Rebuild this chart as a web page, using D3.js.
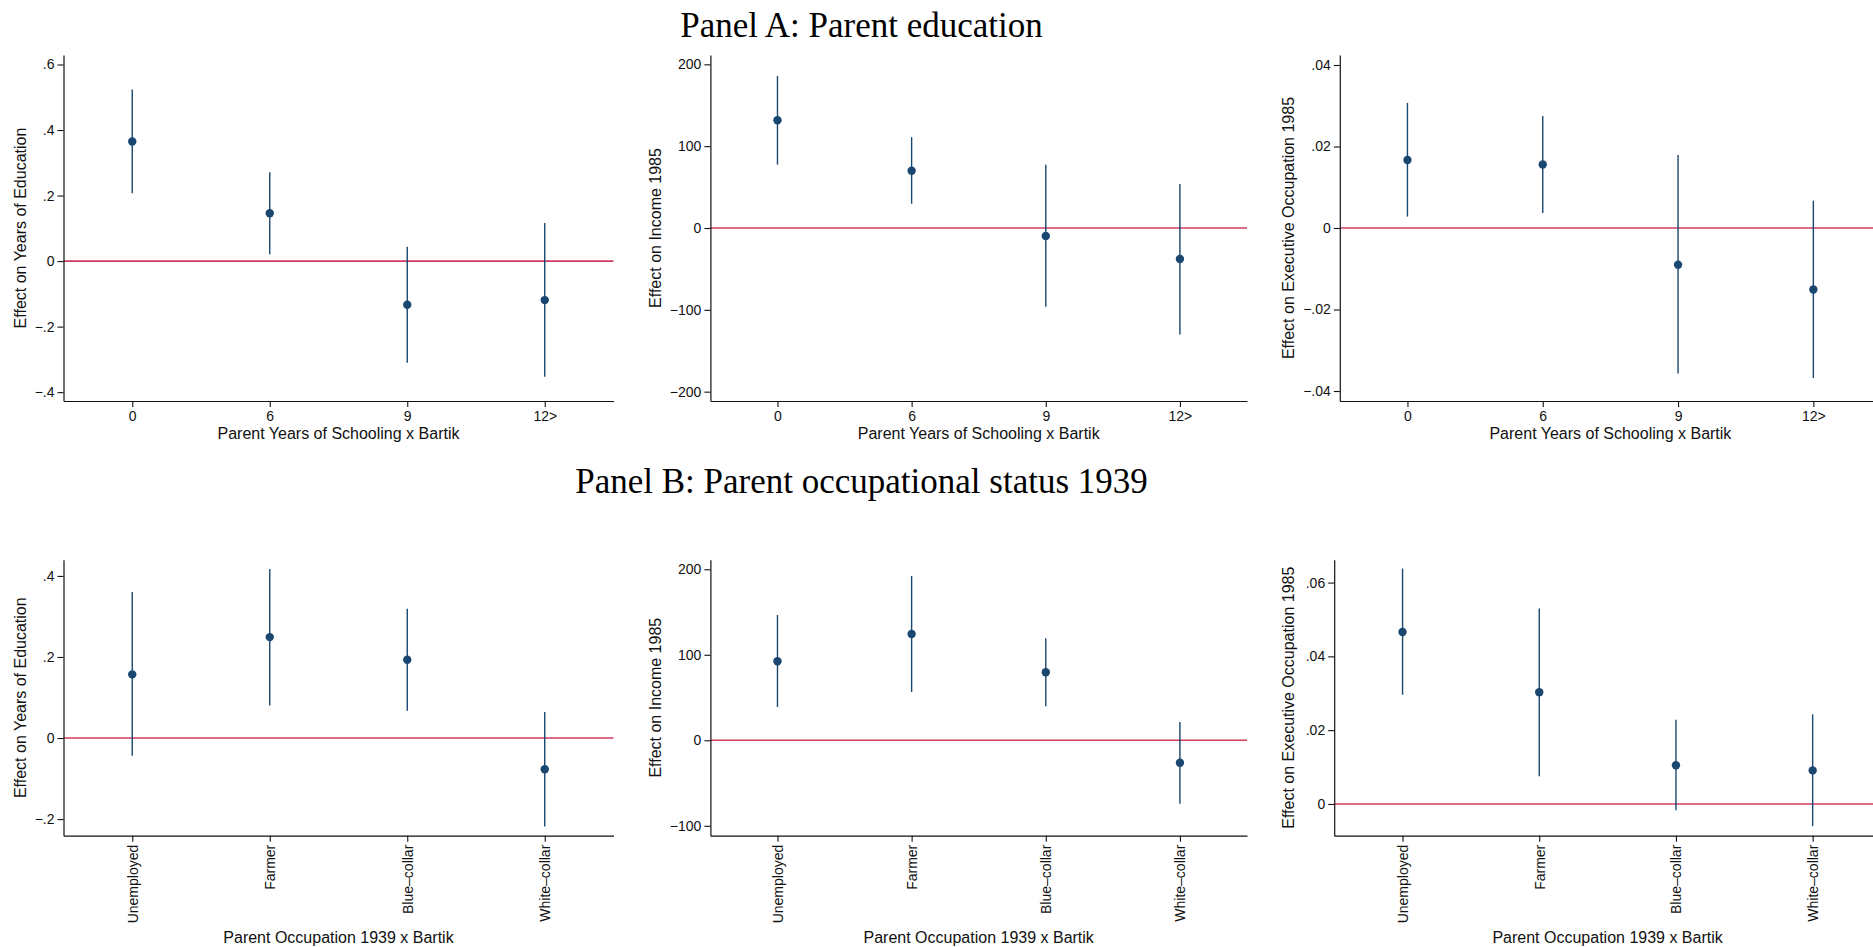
<!DOCTYPE html>
<html><head><meta charset="utf-8">
<script src="https://cdn.jsdelivr.net/npm/d3@7"></script>
<style>body{margin:0;background:#fff}svg{display:block}</style>
</head><body>
<script>
// ---------- data ----------
const catsA = ["0", "6", "9", "12>"];
const catsB = ["Unemployed", "Farmer", "Blue–collar", "White–collar"];

const panelTitles = ["Panel A: Parent education", "Panel B: Parent occupational status 1939"];
const xTitles = ["Parent Years of Schooling x Bartik", "Parent Occupation 1939 x Bartik"];
const yTitles = ["Effect on Years of Education", "Effect on Income 1985", "Effect on Executive Occupation 1985"];

// Panel A
const eduA_coef = [0.365, 0.146, -0.133, -0.119];
const eduA_lo   = [0.207, 0.021, -0.310, -0.353];
const eduA_hi   = [0.524, 0.271, 0.044, 0.116];
const incA_coef = [131.7, 70.0, -9.8, -37.9];
const incA_lo   = [77.4, 29.7, -96.2, -130.0];
const incA_hi   = [185.8, 111.0, 77.4, 53.8];
const exeA_coef = [0.0167, 0.0156, -0.0090, -0.0151];
const exeA_lo   = [0.0028, 0.0037, -0.0357, -0.0368];
const exeA_hi   = [0.0307, 0.0275, 0.0179, 0.0067];

// Panel B
const eduB_coef = [0.157, 0.249, 0.193, -0.077];
const eduB_lo   = [-0.044, 0.080, 0.067, -0.218];
const eduB_hi   = [0.360, 0.417, 0.319, 0.064];
const incB_coef = [92.4, 124.3, 79.5, -26.2];
const incB_lo   = [38.9, 56.5, 39.8, -74.2];
const incB_hi   = [146.5, 192.2, 119.3, 21.4];
const exeB_coef = [0.0466, 0.0303, 0.0105, 0.0091];
const exeB_lo   = [0.0296, 0.0075, -0.0017, -0.0060];
const exeB_hi   = [0.0638, 0.0530, 0.0228, 0.0243];

// y-axis ranges and ticks
const eduA_dom = [-0.427, 0.629];
const incA_dom = [-211.4, 211.4];
const exeA_dom = [-0.04245, 0.04245];
const eduB_dom = [-0.241, 0.440];
const incB_dom = [-111.6, 211.2];
const exeB_dom = [-0.0086, 0.0662];

const eduA_ticks = [-0.4, -0.2, 0, 0.2, 0.4, 0.6];
const eduA_tickLabels = ["−.4", "−.2", "0", ".2", ".4", ".6"];
const incA_ticks = [-200, -100, 0, 100, 200];
const incA_tickLabels = ["−200", "−100", "0", "100", "200"];
const exeA_ticks = [-0.04, -0.02, 0, 0.02, 0.04];
const exeA_tickLabels = ["−.04", "−.02", "0", ".02", ".04"];
const eduB_ticks = [-0.2, 0, 0.2, 0.4];
const eduB_tickLabels = ["−.2", "0", ".2", ".4"];
const incB_ticks = [-100, 0, 100, 200];
const incB_tickLabels = ["−100", "0", "100", "200"];
const exeB_ticks = [0, 0.02, 0.04, 0.06];
const exeB_tickLabels = ["0", ".02", ".04", ".06"];

// ---------- layout (positions only) ----------
const W = 1873, H = 947;
const rowBox = [{top: 55, bottom: 401}, {top: 559.7, bottom: 835.7}];
const axisX = [[63.5, 710.4, 1339.8], [63.5, 710.4, 1334.2]];
const rightX = [613.5, 1247, 1881];
const yTitleX = [26.3, 660.5, 1293.7];
const titleCX = 861.5;
const titleY = [37.3, 492.7];
const xTitleY = [439, 943];

const NAVY = "#1a476f", RED = "#cf3a5e";
const SANS = "'Liberation Sans', Arial, Helvetica, sans-serif";
const SERIF = "'Liberation Serif', 'Times New Roman', serif";

const panels = [
  {row:0,col:0,cats:catsA,coef:eduA_coef,lo:eduA_lo,hi:eduA_hi,dom:eduA_dom,ticks:eduA_ticks,labels:eduA_tickLabels,yt:yTitles[0]},
  {row:0,col:1,cats:catsA,coef:incA_coef,lo:incA_lo,hi:incA_hi,dom:incA_dom,ticks:incA_ticks,labels:incA_tickLabels,yt:yTitles[1]},
  {row:0,col:2,cats:catsA,coef:exeA_coef,lo:exeA_lo,hi:exeA_hi,dom:exeA_dom,ticks:exeA_ticks,labels:exeA_tickLabels,yt:yTitles[2]},
  {row:1,col:0,cats:catsB,coef:eduB_coef,lo:eduB_lo,hi:eduB_hi,dom:eduB_dom,ticks:eduB_ticks,labels:eduB_tickLabels,yt:yTitles[0]},
  {row:1,col:1,cats:catsB,coef:incB_coef,lo:incB_lo,hi:incB_hi,dom:incB_dom,ticks:incB_ticks,labels:incB_tickLabels,yt:yTitles[1]},
  {row:1,col:2,cats:catsB,coef:exeB_coef,lo:exeB_lo,hi:exeB_hi,dom:exeB_dom,ticks:exeB_ticks,labels:exeB_tickLabels,yt:yTitles[2]}
];

const svg = d3.select("body").append("svg").attr("width", W).attr("height", H)
  .style("background", "#fff");

// panel titles
panelTitles.forEach((t, i) => {
  svg.append("text").attr("x", titleCX).attr("y", titleY[i])
    .attr("text-anchor", "middle").attr("font-family", SERIF)
    .attr("font-size", 35).attr("fill", "#000").text(t);
});

panels.forEach(p => {
  const top = rowBox[p.row].top, bottom = rowBox[p.row].bottom;
  const left = axisX[p.row][p.col], right = rightX[p.col];
  const x = d3.scalePoint().domain(p.cats).range([left, right]).padding(0.5);
  const y = d3.scaleLinear().domain(p.dom).range([bottom, top]);
  const g = svg.append("g");

  // zero line
  g.append("line").attr("x1", left).attr("x2", right)
    .attr("y1", y(0)).attr("y2", y(0))
    .attr("stroke", RED).attr("stroke-width", 1.6);

  // CIs
  g.selectAll("line.ci").data(p.cats).join("line").attr("class", "ci")
    .attr("x1", d => x(d)).attr("x2", d => x(d))
    .attr("y1", (d, i) => y(p.lo[i])).attr("y2", (d, i) => y(p.hi[i]))
    .attr("stroke", NAVY).attr("stroke-width", 1.4);

  // points
  g.selectAll("circle").data(p.cats).join("circle")
    .attr("cx", d => x(d)).attr("cy", (d, i) => y(p.coef[i]))
    .attr("r", 4.2).attr("fill", NAVY);

  // y axis
  const ya = g.append("g").attr("transform", `translate(${left},0)`)
    .call(d3.axisLeft(y).tickValues(p.ticks).tickFormat((d, i) => p.labels[i])
      .tickSize(6).tickSizeOuter(0).tickPadding(3));
  ya.select(".domain").attr("stroke", "#111").attr("stroke-width", 1.2);
  ya.selectAll(".tick line").attr("stroke", "#111").attr("stroke-width", 1.1);
  ya.selectAll("text").attr("font-family", SANS).attr("font-size", 14).attr("fill", "#111");

  // x axis
  const xa = g.append("g").attr("transform", `translate(0,${bottom})`)
    .call(d3.axisBottom(x).tickSize(6).tickSizeOuter(0).tickPadding(4));
  xa.select(".domain").attr("stroke", "#111").attr("stroke-width", 1.2);
  xa.selectAll(".tick line").attr("stroke", "#111").attr("stroke-width", 1.1);
  xa.selectAll("text").attr("font-family", SANS).attr("font-size", 14).attr("fill", "#111");
  if (p.row === 1) {
    xa.selectAll(".tick text")
      .attr("transform", "rotate(-90)").attr("text-anchor", "end")
      .attr("x", -9).attr("y", 0).attr("dy", "0.35em");
  }

  // y title
  g.append("text")
    .attr("transform", `translate(${yTitleX[p.col]},${(top + bottom) / 2}) rotate(-90)`)
    .attr("text-anchor", "middle").attr("font-family", SANS).attr("font-size", 16)
    .attr("fill", "#111").text(p.yt);

  // x title
  g.append("text").attr("x", (left + right) / 2).attr("y", xTitleY[p.row])
    .attr("text-anchor", "middle").attr("font-family", SANS).attr("font-size", 16)
    .attr("fill", "#111").text(xTitles[p.row]);
});
</script>
</body></html>
